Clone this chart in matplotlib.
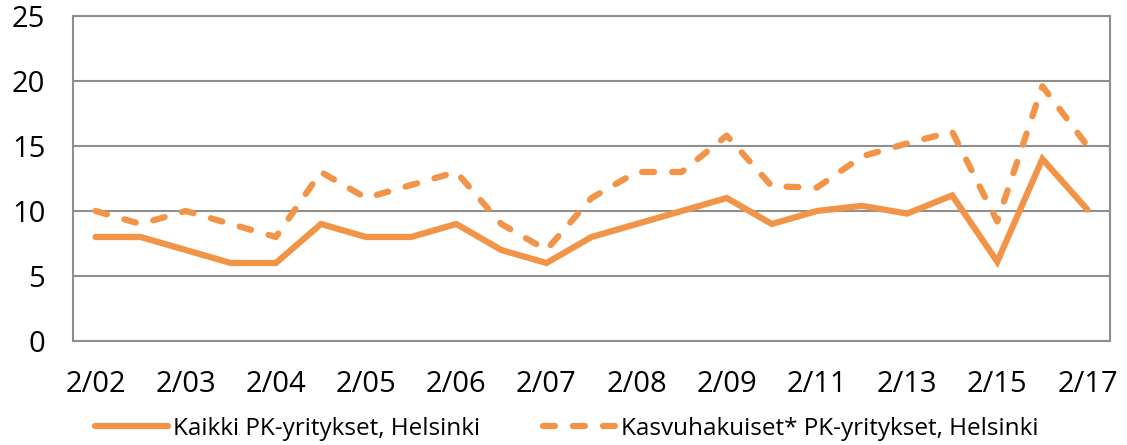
import matplotlib
matplotlib.use("Agg")
import matplotlib.pyplot as plt
import numpy as np

categories = ["2/02", "8/02", "2/03", "8/03", "2/04", "8/04", "2/05", "8/05",
              "2/06", "8/06", "2/07", "8/07", "2/08", "8/08", "2/09", "2/10",
              "2/11", "2/12", "2/13", "2/14", "2/15", "2/16", "2/17"]
kaikki = [8, 8, 7, 6, 6, 9, 8, 8, 9, 7, 6, 8, 9, 10, 11, 9, 10, 10.4, 9.8, 11.2, 6.1, 14, 10.1]
kasvuhakuiset = [10, 9, 10, 9, 8, 13, 11, 12, 13, 9, 7, 11, 13, 13, 15.8, 11.9, 11.8, 14.2, 15.2, 16.1, 9.2, 19.6, 15]
series_names = ["Kaikki PK-yritykset, Helsinki", "Kasvuhakuiset* PK-yritykset, Helsinki"]
y_ticks = [0, 5, 10, 15, 20, 25]

plt.rcParams['font.family'] = ['Open Sans', 'DejaVu Sans']

color = '#F29447'
grid_color = '#8E8E8E'
lw = 4.5

fig = plt.figure(figsize=(11.27, 4.45), dpi=100)
ax = fig.add_axes([73/1127, 1-341/445, (1110-73)/1127, (341-16)/445])

x = np.arange(len(categories))
ax.plot(x, kaikki, color=color, lw=lw, solid_capstyle='round', solid_joinstyle='miter',
        label=series_names[0])
l2, = ax.plot(x, kasvuhakuiset, color=color, lw=lw, dash_capstyle='round',
              dash_joinstyle='round', label=series_names[1])
l2.set_dashes([1.9, 2.9])

ax.set_xlim(-0.5, len(categories) - 0.5)
ax.set_ylim(0, 25)
ax.set_yticks(y_ticks)
ax.set_xticks(x[::2])
ax.set_xticklabels(categories[::2])
for t in y_ticks:
    ax.axhline(t, color=grid_color, lw=1.5, zorder=0)
for s in ax.spines.values():
    s.set_color(grid_color)
    s.set_linewidth(1.5)
ax.tick_params(axis='both', length=0, labelsize=21, colors='black')
ax.tick_params(axis='y', pad=20)
ax.tick_params(axis='x', pad=21)

fig.legend(loc='center', bbox_to_anchor=(0.503, 1-429/445), ncol=2, frameon=False,
           fontsize=17.5, handlelength=3.0, handletextpad=0.2, columnspacing=2.6)

fig.savefig("out.png", dpi=100)
